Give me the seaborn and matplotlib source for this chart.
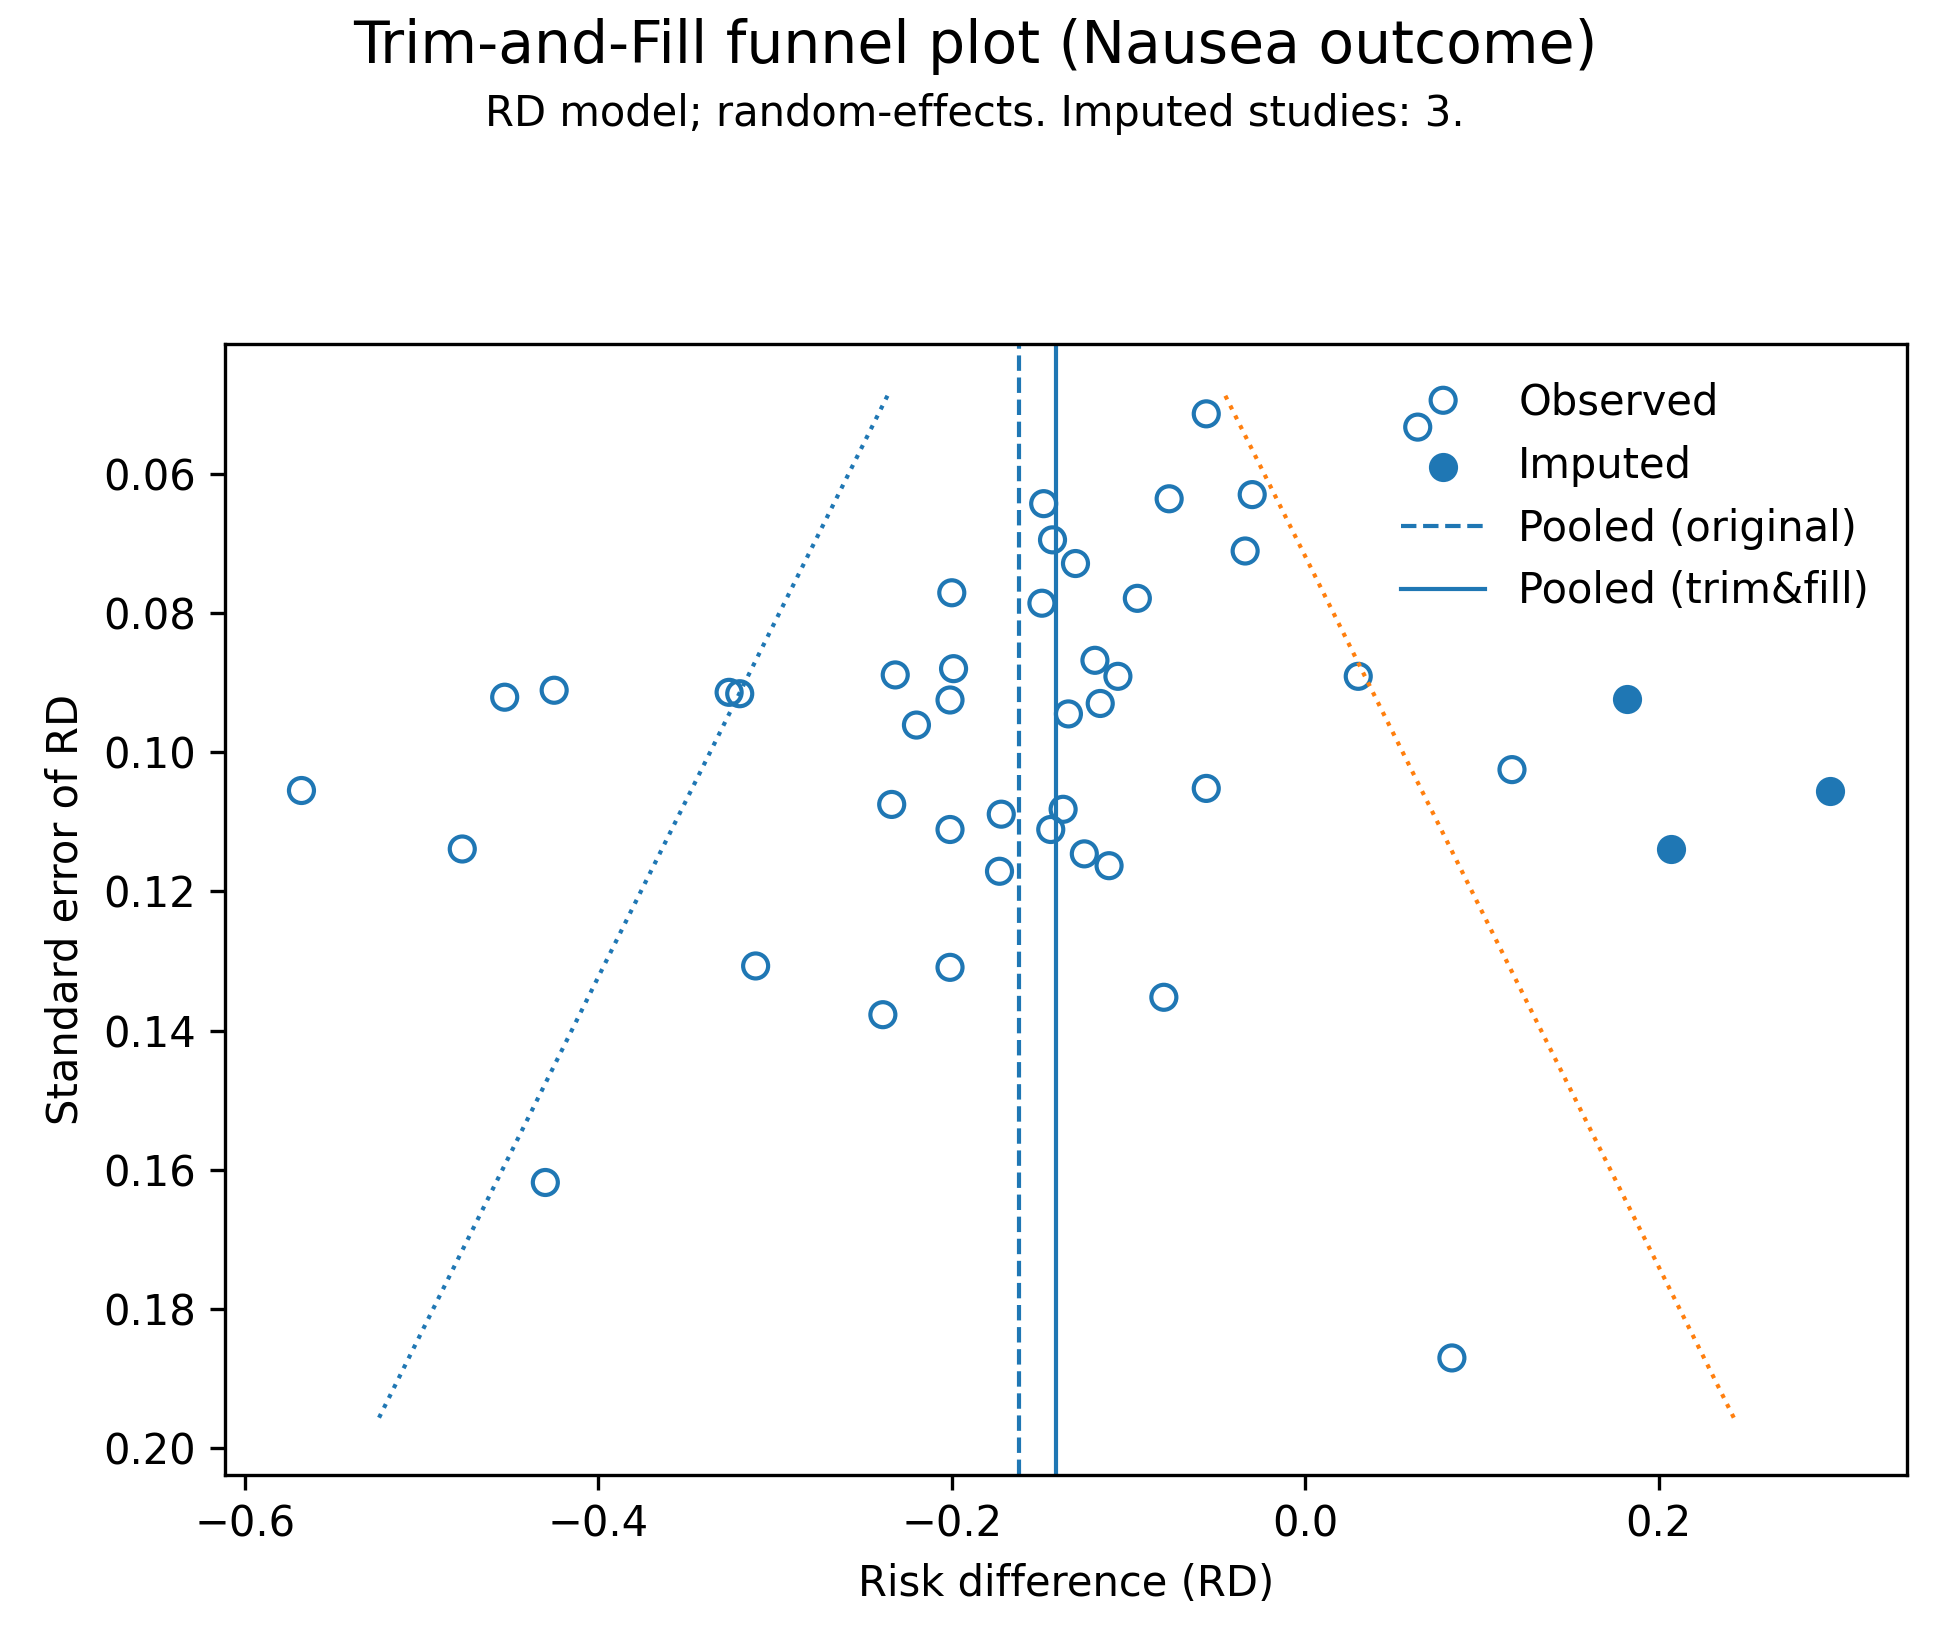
import numpy as np
import pandas as pd
import matplotlib
matplotlib.use("Agg")
import matplotlib.pyplot as plt
import seaborn as sns
from matplotlib.legend_handler import HandlerPathCollection

# -----------------------------
# Data
# -----------------------------
# Observed studies: risk difference and its standard error
obs_rd = [-0.568, -0.477, -0.453, -0.425, -0.430, -0.326, -0.320, -0.311,
          -0.239, -0.234, -0.232, -0.220, -0.200, -0.199, -0.201, -0.201,
          -0.201, -0.172, -0.173, -0.148, -0.143, -0.130, -0.149, -0.119,
          -0.106, -0.116, -0.134, -0.137, -0.144, -0.125, -0.111, -0.095,
          -0.077, -0.056, -0.030, -0.034, -0.056, -0.080, 0.030, 0.117,
          0.083]
obs_se = [0.1055, 0.1139, 0.0921, 0.0911, 0.1618, 0.0914, 0.0916, 0.1307,
          0.1377, 0.1075, 0.0889, 0.0961, 0.0771, 0.0880, 0.0925, 0.1111,
          0.1309, 0.1089, 0.1171, 0.0643, 0.0695, 0.0729, 0.0786, 0.0868,
          0.0891, 0.0930, 0.0945, 0.1082, 0.1111, 0.1146, 0.1163, 0.0779,
          0.0636, 0.0514, 0.0630, 0.0711, 0.1052, 0.1352, 0.0891, 0.1025,
          0.1870]

# Studies imputed by trim-and-fill
imp_rd = [0.182, 0.207, 0.297]
imp_se = [0.0923, 0.1139, 0.1055]

# Pooled estimates
pooled_original = -0.162
pooled_trimfill = -0.1408

# Pseudo 95% confidence limits (end points of the funnel)
funnel_se = [0.0488, 0.1964]
funnel_lower = [-0.2364, -0.5257]
funnel_upper = [-0.0452, 0.2441]

obs_df = pd.DataFrame({"rd": obs_rd, "se": obs_se})
imp_df = pd.DataFrame({"rd": imp_rd, "se": imp_se})
funnel_df = pd.DataFrame({"se": funnel_se, "lower": funnel_lower, "upper": funnel_upper})

blue = "#1f77b4"
orange = "#ff7f0e"


# Legend handler that draws the "Observed" entry as two staggered circles
class TwoCircles(HandlerPathCollection):
    def get_xdata(self, legend, xdescent, ydescent, width, height, fontsize):
        center = 0.5 * width - xdescent
        xdata = np.array([-xdescent, width - xdescent])
        xdata_marker = np.array([center - 0.61 * fontsize, center])
        return xdata, xdata_marker


# -----------------------------
# Plot
# -----------------------------
fig, ax = plt.subplots(figsize=(6.5, 5.5), dpi=300)
fig.subplots_adjust(left=0.1154, right=0.9777, bottom=0.1062, top=0.7913)

sns.scatterplot(data=obs_df, x="rd", y="se", ax=ax, s=36,
                color=blue, facecolor="none", edgecolor=blue, linewidth=1.0,
                label="Observed")
sns.scatterplot(data=imp_df, x="rd", y="se", ax=ax, s=36,
                color=blue, edgecolor=blue, linewidth=1.0,
                label="Imputed")

line_orig = ax.axvline(pooled_original, color=blue, linestyle="--", linewidth=1.0,
                       label="Pooled (original)")
line_tf = ax.axvline(pooled_trimfill, color=blue, linestyle="-", linewidth=1.0,
                     label="Pooled (trim&fill)")

sns.lineplot(data=funnel_df, x="lower", y="se", ax=ax, sort=False,
             color=blue, linestyle=":", linewidth=1.0)
sns.lineplot(data=funnel_df, x="upper", y="se", ax=ax, sort=False,
             color=orange, linestyle=":", linewidth=1.0)

ax.invert_yaxis()
ax.set_xlabel("Risk difference (RD)", fontsize=10)
ax.set_ylabel("Standard error of RD", fontsize=10)
ax.set_yticks([0.06, 0.08, 0.10, 0.12, 0.14, 0.16, 0.18, 0.20])
ax.set_xticks([-0.6, -0.4, -0.2, 0.0, 0.2])

handles = [ax.collections[0], ax.collections[1], line_orig, line_tf]
labels = ["Observed", "Imputed", "Pooled (original)", "Pooled (trim&fill)"]
ax.legend(handles, labels, loc="upper right", frameon=False, fontsize=10,
          handler_map={ax.collections[0]: TwoCircles(numpoints=2, yoffsets=[-0.42, 0.5])})

fig.suptitle("Trim-and-Fill funnel plot (Nausea outcome)", fontsize=14, y=0.989)
fig.text(0.5, 0.931, "RD model; random-effects. Imputed studies: 3.",
         ha="center", va="center", fontsize=10)

fig.savefig("out.png", dpi=300)
